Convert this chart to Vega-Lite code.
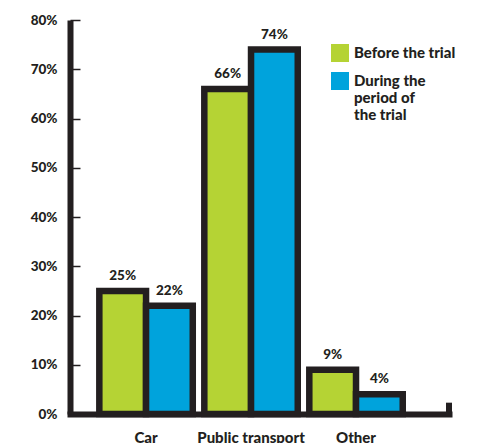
{
  "$schema": "https://vega.github.io/schema/vega-lite/v6.json",
  "autosize": "none",
  "width": 379,
  "height": 394,
  "padding": {"left": 70, "top": 20, "right": 29, "bottom": 29},
  "background": "white",
  "config": {
    "view": {"stroke": null},
    "font": "Lato",
    "text": {"font": "Lato", "fontWeight": 900, "fill": "#231f20"}
  },
  "data": {
    "values": [
      {"mode": "Car", "period": "Before the trial", "share": 25},
      {"mode": "Car", "period": "During the period of the trial", "share": 22},
      {"mode": "Public transport", "period": "Before the trial", "share": 66},
      {"mode": "Public transport", "period": "During the period of the trial", "share": 74},
      {"mode": "Other", "period": "Before the trial", "share": 9},
      {"mode": "Other", "period": "During the period of the trial", "share": 4}
    ]
  },
  "layer": [
    {
      "layer": [
        {
          "mark": {"type": "bar", "stroke": "#231f20", "strokeWidth": 6.5, "strokeJoin": "miter", "cornerRadius": 0},
          "encoding": {
            "x": {
              "field": "mode",
              "type": "nominal",
              "sort": ["Car", "Public transport", "Other"],
              "scale": {"paddingInner": 0.11, "paddingOuter": 0.36, "align": 0.388},
              "axis": {
                "title": null,
                "labelAngle": 0,
                "ticks": false,
                "labelPadding": 16,
                "labelFont": "Lato",
                "labelFontWeight": 900,
                "labelFontSize": 15,
                "labelColor": "#231f20",
                "domainColor": "#231f20",
                "domainWidth": 6,
                "domainCap": "square"
              }
            },
            "xOffset": {
              "field": "period",
              "type": "nominal",
              "scale": {"paddingInner": 0, "paddingOuter": 0}
            },
            "y": {
              "field": "share",
              "type": "quantitative",
              "scale": {"domain": [0, 80]},
              "axis": {
                "title": null,
                "values": [0, 10, 20, 30, 40, 50, 60, 70, 80],
                "labelExpr": "datum.value + '%'",
                "grid": false,
                "domainColor": "#231f20",
                "domainWidth": 6,
                "tickColor": "#231f20",
                "tickWidth": 1.5,
                "tickSize": -10,
                "labelPadding": 23,
                "labelFont": "Lato",
                "labelFontWeight": 900,
                "labelFontSize": 13.5,
                "labelColor": "#231f20"
              }
            },
            "color": {
              "field": "period",
              "type": "nominal",
              "scale": {
                "domain": ["Before the trial", "During the period of the trial"],
                "range": ["#b5d334", "#00a3dc"]
              },
              "legend": {
                "title": null,
                "orient": "none",
                "legendX": 261,
                "legendY": 24,
                "padding": 0,
                "symbolType": "square",
                "symbolSize": 324,
                "symbolStrokeWidth": 0,
                "symbolOpacity": 1,
                "labelFont": "Lato",
                "labelFontWeight": 900,
                "labelFontSize": 15,
                "labelColor": "#231f20",
                "labelOffset": 5,
                "labelLimit": 200,
                "rowPadding": 10,
                "labelExpr": "datum.label == 'During the period of the trial' ? ['During the', 'period of', 'the trial'] : datum.label",
                "encode": {
                  "labels": {
                    "update": {
                      "lineHeight": {"value": 18},
                      "dy": {"signal": "datum.label == 'During the period of the trial' ? 18 : 0"}
                    }
                  }
                }
              }
            }
          }
        },
        {
          "transform": [{"calculate": "datum.share + '%'", "as": "label"}],
          "mark": {"type": "text", "baseline": "alphabetic", "dy": -11, "fontSize": 13.5},
          "encoding": {
            "x": {"field": "mode", "type": "nominal", "sort": ["Car", "Public transport", "Other"]},
            "xOffset": {"field": "period", "type": "nominal"},
            "y": {"field": "share", "type": "quantitative"},
            "text": {"field": "label", "type": "nominal"},
            "detail": {"field": "period"}
          }
        }
      ]
    },
    {
      "data": {"values": [{"edge": "end"}]},
      "mark": {"type": "rule", "stroke": "#231f20", "strokeWidth": 6},
      "encoding": {
        "x": {"datum": 1, "type": "quantitative", "scale": {"domain": [0, 1]}, "axis": null},
        "y": {"datum": 0, "type": "quantitative"},
        "y2": {"datum": 2.3}
      }
    }
  ],
  "resolve": {"scale": {"x": "independent"}}
}
